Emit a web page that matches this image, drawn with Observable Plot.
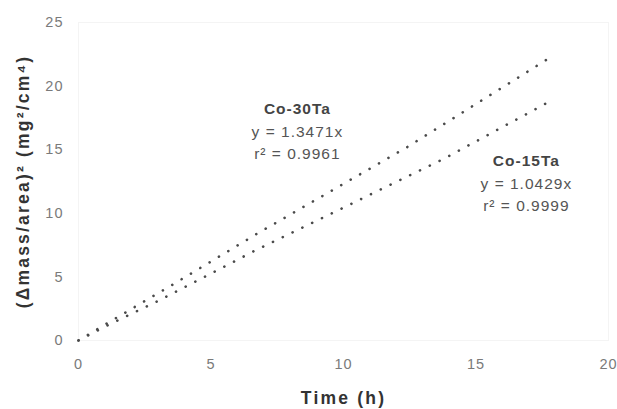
<!DOCTYPE html>
<html>
<head>
<meta charset="utf-8">
<script src="https://cdn.jsdelivr.net/npm/d3@7"></script>
<script src="https://cdn.jsdelivr.net/npm/@observablehq/plot@0.6"></script>
<style>
  html, body { margin: 0; padding: 0; background: #fff; }
  #chart svg { display: block; }
</style>
</head>
<body>
<div id="chart"></div>
<script>
// Series (time in h, (Δm/A)^2 in mg^2/cm^4)
const co30Time  = [0, 1.2, 3.6, 6.7, 12.4, 17.8];
const co30Value = [0, 1.5, 4.45, 8.35, 15.2, 22.25];
const co15Time  = [0, 1.2, 3.0, 6.6, 13.8, 17.7];
const co15Value = [0, 1.3, 3.1, 7.0, 14.3, 18.7];

const xTicks = [0, 5, 10, 15, 20];
const yTicks = [0, 5, 10, 15, 20, 25];

// Annotation labels (anchor in data units)
const annotNames = ["Co-30Ta", "Co-15Ta"];
const annotEq    = ["y = 1.3471x", "y = 1.0429x"];
const annotR2    = ["r² = 0.9961", "r² = 0.9999"];
const annotX     = [8.26, 16.9];
const annotY     = [18.2, 14.1];

const series = [
  ...co30Time.map((t, i) => ({series: "Co-30Ta", t, v: co30Value[i]})),
  ...co15Time.map((t, i) => ({series: "Co-15Ta", t, v: co15Value[i]}))
];
const annots = annotNames.map((n, i) => ({name: n, eq: annotEq[i], r2: annotR2[i], x: annotX[i], y: annotY[i]}));

const chart = Plot.plot({
  width: 617,
  height: 409,
  marginLeft: 78,
  marginRight: 9,
  marginTop: 22,
  marginBottom: 69,
  style: {fontFamily: "Liberation Sans, Arial, sans-serif", fontSize: "14.5px", color: "#7a7a7a", background: "#fff", letterSpacing: "1px"},
  x: {domain: [0, 20], ticks: xTicks, tickSize: 0, tickPadding: 18, label: "Time (h)", labelAnchor: "center", labelArrow: "none", labelOffset: 63},
  y: {domain: [0, 25], ticks: yTicks, tickSize: 0, tickPadding: 15, label: "(Δmass/area)² (mg²/cm⁴)", labelAnchor: "center", labelArrow: "none", labelOffset: 62},
  marks: [
    Plot.frame({stroke: "#f4f4f4"}),
    Plot.line(series, {x: "t", y: "v", z: "series", stroke: "#4a4a4a", strokeWidth: 2.6, strokeDasharray: "0.1 10.8", strokeLinecap: "round"}),
    Plot.text(annots, {x: "x", y: "y", text: "name", fontWeight: "bold", fontSize: 15.5, fill: "#444", letterSpacing: "1.5px"}),
    Plot.text(annots, {x: "x", y: "y", text: "eq", dy: 23, fontSize: 15.5, fill: "#555", letterSpacing: "1.5px"}),
    Plot.text(annots, {x: "x", y: "y", text: "r2", dy: 45, fontSize: 15.5, fill: "#555", letterSpacing: "1.5px"})
  ]
});

// Style axis labels: bold, darker, slightly spaced
d3.select(chart).selectAll("g[aria-label='x-axis label'] text, g[aria-label='y-axis label'] text")
  .style("font-weight", "bold").style("font-size", "17.5px").style("letter-spacing", "2.2px").attr("fill", "#333");

document.getElementById("chart").appendChild(chart);
</script>
</body>
</html>
